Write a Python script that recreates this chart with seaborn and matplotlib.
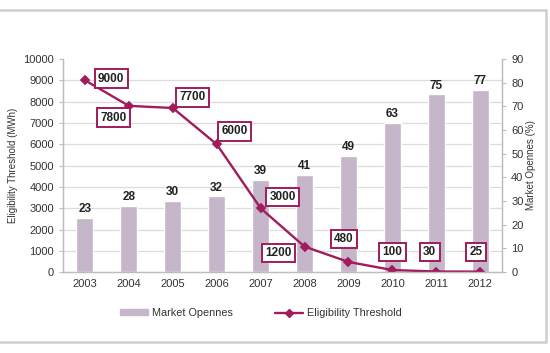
import matplotlib
matplotlib.use('Agg')
import matplotlib.pyplot as plt
import matplotlib.patches as mpatches
from matplotlib.lines import Line2D
from matplotlib.ticker import MultipleLocator
import pandas as pd
import seaborn as sns

years = ['2003', '2004', '2005', '2006', '2007', '2008', '2009', '2010', '2011', '2012']
market_openness = [23, 28, 30, 32, 39, 41, 49, 63, 75, 77]
eligibility_threshold = [9000, 7800, 7700, 6000, 3000, 1200, 480, 100, 30, 25]

# where each threshold box sits relative to its point (category units, MWh)
box_dx = [0.6, -0.35, 0.45, 0.4, 0.5, -0.6, -0.1, 0.0, -0.15, -0.1]
box_dy = [80, -550, 500, 600, 520, -300, 1070, 840, 910, 915]

BAR_COLOR = '#c5b6c9'
LINE_COLOR = '#a01c5c'
TEXT_COLOR = '#333333'
GRID_COLOR = '#dcdcdc'

sns.set_style('white')
plt.rcParams['font.family'] = ['Liberation Sans Narrow', 'Liberation Sans', 'DejaVu Sans']

df = pd.DataFrame({'year': years, 'openness': market_openness, 'threshold': eligibility_threshold})

fig, ax = plt.subplots(figsize=(5.5, 3.53), dpi=100)
fig.subplots_adjust(left=0.1145, right=0.913, top=0.833, bottom=0.229)
ax2 = ax.twinx()

# bars on the right axis (behind)
sns.barplot(data=df, x='year', y='openness', color=BAR_COLOR, width=0.39,
            saturation=1, ax=ax2, zorder=2)
ax2.set_ylim(0, 90)
ax2.yaxis.set_major_locator(MultipleLocator(10))
ax2.yaxis.set_minor_locator(MultipleLocator(9))
ax2.grid(which='minor', axis='y', color=GRID_COLOR, lw=0.9, zorder=0)
ax2.grid(which='major', visible=False)
ax2.set_axisbelow(True)
ax2.tick_params(axis='y', which='minor', length=0)
ax2.set_ylabel('Market Opennes (%)', fontsize=7, color=TEXT_COLOR, rotation=90, labelpad=2)

for i, v in enumerate(market_openness):
    ax2.text(i, v + 1.2, str(v), ha='center', va='bottom', fontsize=8.5,
             fontweight='bold', color='#222222')

# threshold line on the left axis (in front)
ax.set_zorder(ax2.get_zorder() + 1)
ax.patch.set_visible(False)
sns.pointplot(data=df, x='year', y='threshold', color=LINE_COLOR, markers='D',
              markersize=4, linewidth=1.7, ax=ax)
ax.set_ylim(0, 10000)
ax.set_xlim(-0.5, len(years) - 0.5)
ax.yaxis.set_major_locator(MultipleLocator(1000))
ax.set_ylabel('Eligibility Threshold (MWh)', fontsize=7, color=TEXT_COLOR, labelpad=4)
ax.set_xlabel('')
ax2.set_xlabel('')

for i, v in enumerate(eligibility_threshold):
    ax.text(i + box_dx[i], v + box_dy[i], str(v), ha='center', va='center',
            fontsize=8.5, fontweight='bold', color='#222222',
            bbox=dict(boxstyle='square,pad=0.28', fc='white', ec=LINE_COLOR, lw=1.4))

for a in (ax, ax2):
    a.spines['top'].set_visible(False)
    for side in ('left', 'right', 'bottom'):
        a.spines[side].set_color('#bdbdbd')
        a.spines[side].set_linewidth(0.9)
    a.tick_params(axis='both', labelsize=8, colors='#bdbdbd', labelcolor=TEXT_COLOR,
                  length=3, width=0.8)

ax.set_xticks(range(len(years)))
ax.set_xticklabels(years)
ax.tick_params(axis='x', length=0, pad=5)
ax.set_xticks([i - 0.5 for i in range(len(years) + 1)], minor=True)
ax.tick_params(axis='x', which='minor', length=3, color='#bdbdbd')
ax2.tick_params(axis='x', length=0)

handles = [
    mpatches.Patch(color=BAR_COLOR, label='Market Opennes'),
    Line2D([], [], color=LINE_COLOR, marker='D', markersize=4, lw=1.7,
           label='Eligibility Threshold'),
]
fig.legend(handles=handles, loc='center', bbox_to_anchor=(0.474, 0.113), ncol=2,
           frameon=False, fontsize=7.8, handlelength=2.6, handleheight=0.45,
           handletextpad=0.35, columnspacing=3.9, labelcolor=TEXT_COLOR)

frame = mpatches.Rectangle((-0.01, 0.031), 1.003, 0.941, transform=fig.transFigure,
                           fill=False, ec='#cfcfcf', lw=1.8)
fig.patches.append(frame)

fig.savefig('out.png', dpi=100)
